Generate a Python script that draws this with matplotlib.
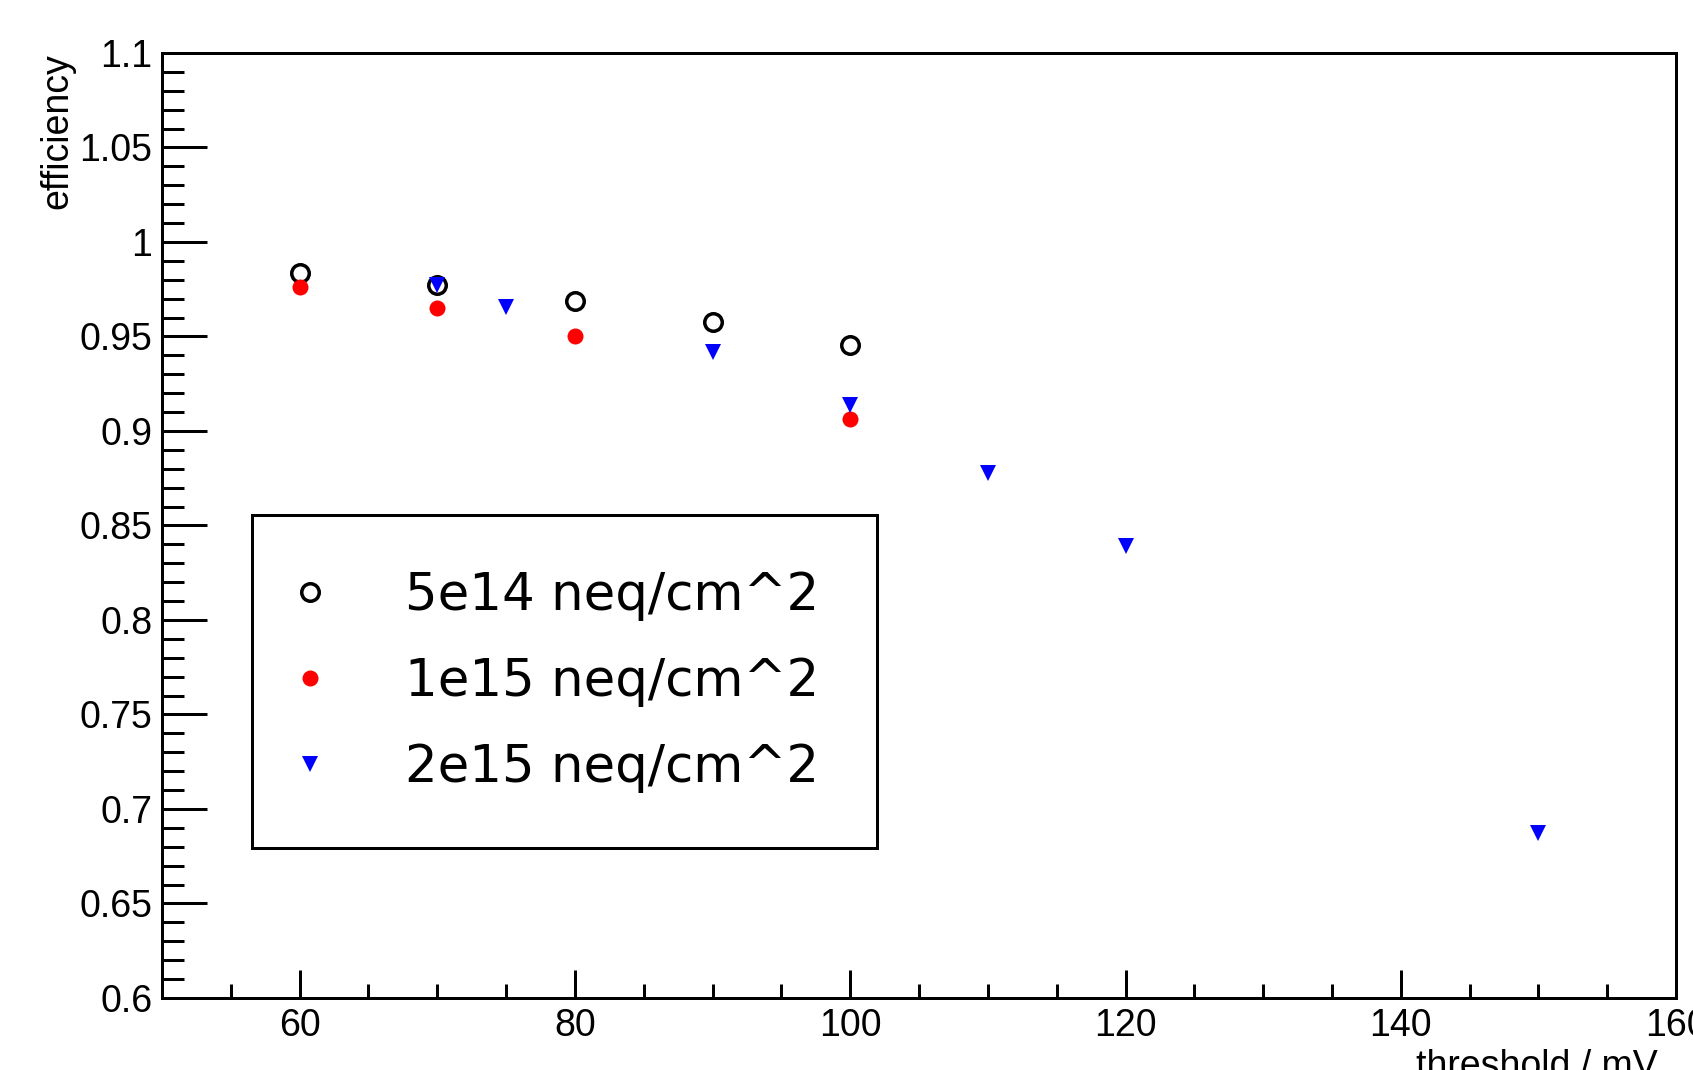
import matplotlib
matplotlib.use('Agg')
import matplotlib.pyplot as plt
from matplotlib.ticker import MultipleLocator, FuncFormatter

plt.rcParams['font.family'] = ['Liberation Sans', 'DejaVu Sans']

# efficiency vs threshold for three fluences
thr_5e14 = [60, 70, 80, 90, 100]
eff_5e14 = [0.9834, 0.9770, 0.9687, 0.9575, 0.9455]

thr_1e15 = [60, 70, 80, 100]
eff_1e15 = [0.9762, 0.9649, 0.9504, 0.9066]

thr_2e15 = [70, 75, 90, 100, 110, 120, 150]
eff_2e15 = [0.9770, 0.9655, 0.9418, 0.9138, 0.8776, 0.8390, 0.6873]

labels = ['5e14 neq/cm^2', '1e15 neq/cm^2', '2e15 neq/cm^2']

PX = 0.72  # one pixel in points at dpi 100


def make_plot(path='out.png'):
    fig = plt.figure(figsize=(16.93, 10.70), dpi=100)
    ax = fig.add_axes([0.0957, 0.0673, 0.8943, 0.8832])

    ax.plot(thr_5e14, eff_5e14, linestyle='none', marker='o', ms=17.5 * PX,
            mfc='none', mec='black', mew=3.5 * PX, label=labels[0])
    ax.plot(thr_1e15, eff_1e15, linestyle='none', marker='o', ms=16 * PX,
            mfc='red', mec='red', mew=0, label=labels[1])
    ax.plot(thr_2e15, eff_2e15, linestyle='none', marker='v', ms=16 * PX,
            mfc='blue', mec='blue', mew=0, label=labels[2])

    ax.set_xlim(50, 160)
    ax.set_ylim(0.6, 1.1)

    ax.xaxis.set_major_locator(MultipleLocator(20))
    ax.xaxis.set_minor_locator(MultipleLocator(5))
    ax.yaxis.set_major_locator(MultipleLocator(0.05))
    ax.yaxis.set_minor_locator(MultipleLocator(0.01))
    ax.yaxis.set_major_formatter(FuncFormatter(lambda v, p: '%g' % round(v, 3)))

    ax.tick_params(axis='both', which='both', direction='in', width=3 * PX,
                   labelsize=27, pad=7, top=False, right=False)
    ax.tick_params(axis='y', which='major', length=45 * PX)
    ax.tick_params(axis='y', which='minor', length=22 * PX)
    ax.tick_params(axis='x', which='major', length=28 * PX)
    ax.tick_params(axis='x', which='minor', length=14 * PX)
    for s in ax.spines.values():
        s.set_linewidth(3 * PX)

    fig.text(57 / 1693, 1 - 53 / 1070, 'efficiency', rotation=90,
             ha='center', va='top', fontsize=27)
    fig.text(1658 / 1693, 1 - 1077 / 1070, 'threshold / mV',
             ha='right', va='baseline', fontsize=27)

    leg = ax.legend(loc='upper left', bbox_to_anchor=(0.0592, 0.163, 0.413, 0.348),
                    mode='expand', prop={'family': 'DejaVu Sans', 'size': 37},
                    frameon=True, fancybox=False, borderaxespad=0,
                    borderpad=1.08, labelspacing=0.70,
                    handlelength=0.1, handletextpad=1.8, numpoints=1)
    frame = leg.get_frame()
    frame.set_edgecolor('black')
    frame.set_linewidth(3 * PX)
    frame.set_alpha(1)

    fig.savefig(path, dpi=100)


if __name__ == '__main__':
    make_plot()
